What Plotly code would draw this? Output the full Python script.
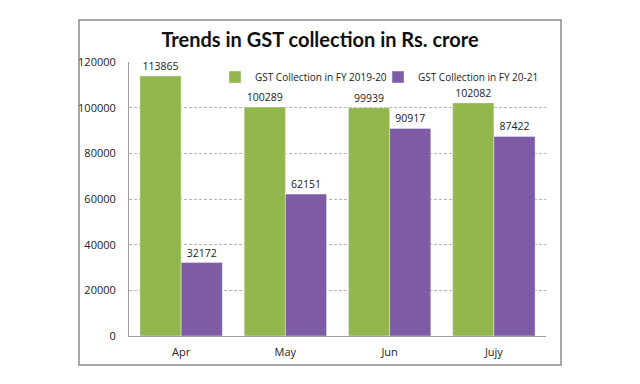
import plotly.graph_objects as go

months = ["Apr", "May", "Jun", "Jujy"]
fy1920 = [113865, 100289, 99939, 102082]
fy2021 = [32172, 62151, 90917, 87422]
series_names = ["GST Collection in FY 2019-20", "GST Collection in FY 20-21"]
yticks = [0, 20000, 40000, 60000, 80000, 100000, 120000]

# page offset from default body margin
OX, OY = 8, 8
W, H = 640 - OX, 384 - OY
# plot area in page pixels: x 129..546, y 62..336
L, R, T, B = 129 - OX, 640 - 546, 62 - OY, 384 - 336
pw, ph = W - L - R, H - T - B

def px(x):
    return (x - OX - L) / pw

def py(y):
    return (H - B - (y - OY)) / ph

fig = go.Figure()
fig.add_bar(x=months, y=fy1920, name=series_names[0], marker_color="#92B74C",
            text=[str(v) for v in fy1920], textposition="outside",
            textfont=dict(size=10.5, color="#222"), cliponaxis=False)
fig.add_bar(x=months, y=fy2021, name=series_names[1], marker_color="#7E5BA5",
            text=[str(v) for v in fy2021], textposition="outside",
            textfont=dict(size=10.5, color="#222"), cliponaxis=False)

fig.update_layout(
    width=W, height=H,
    margin=dict(l=L, r=R, t=T, b=B),
    paper_bgcolor="white", plot_bgcolor="white",
    font=dict(family="Open Sans, Arial, sans-serif", size=11, color="#222"),
    barmode="group", bargap=0.21, bargroupgap=0,
    title=dict(text="<b>Trends in GST collection in Rs. crore</b>",
               x=(320 - OX) / W, xanchor="center", y=1 - (40 - OY) / H, yanchor="middle",
               font=dict(family="Lato, Open Sans, sans-serif", size=20, color="#111")),
    legend=dict(orientation="h", x=px(541), xanchor="right", y=py(77), yanchor="middle",
                bgcolor="rgba(0,0,0,0)", font=dict(size=10, color="#222"),
                itemwidth=30, traceorder="normal", tracegroupgap=0,
                entrywidth=118, entrywidthmode="pixels"),
    showlegend=True,
)
fig.update_yaxes(range=[0, 120000], tickvals=yticks, ticktext=[str(v) for v in yticks],
                 showgrid=True, gridcolor="#B5B5B5", griddash="3px,2px", gridwidth=1,
                 showline=True, linecolor="#9E9E9E", linewidth=1, zeroline=False,
                 ticks="", ticklabelstandoff=10, tickfont=dict(size=11, color="#222"))
fig.update_xaxes(showline=True, linecolor="#9E9E9E", linewidth=1, ticks="",
                 tickfont=dict(size=11, color="#222"), ticklabelstandoff=6)

fig.add_shape(type="rect", xref="paper", yref="paper",
              x0=px(79), x1=px(561), y0=py(365), y1=py(20),
              line=dict(color="#8A8A8A", width=1.5), fillcolor="rgba(0,0,0,0)", layer="below")

fig.write_html("out.html")
